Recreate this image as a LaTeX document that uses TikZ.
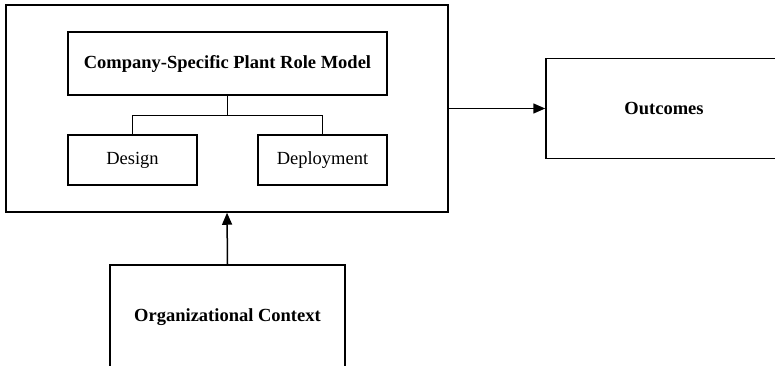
\documentclass[tikz,border=0pt]{standalone}
\usepackage{fontspec}
\setmainfont{Liberation Serif}
\usepackage{tikz}
\usetikzlibrary{arrows.meta,positioning}

\begin{document}
\begin{tikzpicture}[x=1pt,y=-1pt,line width=1.5pt]
\fontsize{18.5}{22}\selectfont

\tikzstyle{block}=[draw,rectangle,inner sep=0pt,line width=1.5pt]
\tikzstyle{flow}=[line width=1.5pt,-{Triangle[length=12pt,width=10pt]}]

\useasboundingbox (0,0) rectangle (775,366);

%% Outer box holding the role model
\node [block,minimum width=442pt,minimum height=207pt] (frame) at (227,108.5) {};

%% Role model and its two parts
\node [block,minimum width=319pt,minimum height=63pt] (model) at (227.5,63.5)
    {\textbf{Company-Specific Plant Role Model}};
\node [block,minimum width=129pt,minimum height=50pt] (design) at (132.5,160) {Design};
\node [block,minimum width=129pt,minimum height=50pt] (deploy) at (322.5,160) {Deployment};

\draw (model.south) -- ++(0,20) coordinate (split);
\draw (split) -| (design.north);
\draw (split) -| (deploy.north);

%% Outcomes on the right
\node [block,minimum width=236pt,minimum height=100pt] (outcomes) at (664,108.5)
    {\textbf{Outcomes}};
\draw [flow] (frame.east) -- (outcomes.west);

%% Context below
\node [block,minimum width=235pt,minimum height=105pt] (context) at (227.5,317.5)
    {\textbf{Organizational Context}};
\draw [flow] (context.north) -- (frame.south);
\end{tikzpicture}
\end{document}
